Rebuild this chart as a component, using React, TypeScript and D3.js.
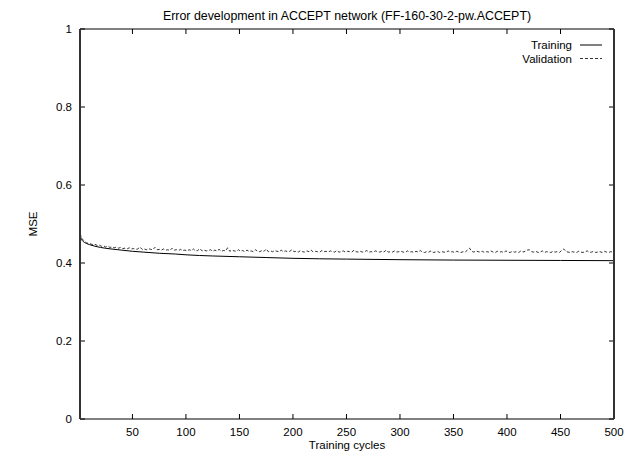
import React from "react";
import * as d3 from "d3";

const title = "Error development in ACCEPT network (FF-160-30-2-pw.ACCEPT)";
const xLabel = "Training cycles";
const yLabel = "MSE";
const xTicks = [50, 100, 150, 200, 250, 300, 350, 400, 450, 500];
const yTicks = [0, 0.2, 0.4, 0.6, 0.8, 1];
const seriesNames = ["Training", "Validation"];

const trainingCycles = [1, 2, 3, 5, 7, 10, 15, 20, 30, 40, 50, 60, 75, 90, 100, 125, 150, 175, 200, 250, 300, 350, 400, 450, 500];
const trainingMSE = [0.472, 0.463, 0.458, 0.453, 0.450, 0.447, 0.443, 0.440, 0.436, 0.433, 0.430, 0.428, 0.425, 0.423, 0.421, 0.418, 0.416, 0.414, 0.412, 0.410, 0.4085, 0.4075, 0.407, 0.4065, 0.406];

// validation MSE, sampled every 2 cycles starting at cycle 1
const validationMSE = [
  0.475, 0.462, 0.456, 0.452, 0.450, 0.449, 0.447, 0.448, 0.445, 0.446,
  0.443, 0.444, 0.441, 0.443, 0.440, 0.441, 0.439, 0.441, 0.438, 0.440,
  0.437, 0.438, 0.436, 0.439, 0.436, 0.437, 0.435, 0.436, 0.441, 0.435,
  0.436, 0.434, 0.437, 0.435, 0.434, 0.440, 0.434, 0.435, 0.433, 0.436,
  0.433, 0.434, 0.432, 0.438, 0.433, 0.434, 0.432, 0.435, 0.432, 0.433,
  0.431, 0.434, 0.432, 0.436, 0.431, 0.432, 0.437, 0.431, 0.433, 0.431,
  0.432, 0.434, 0.430, 0.433, 0.431, 0.435, 0.430, 0.432, 0.431, 0.439,
  0.430, 0.433, 0.431, 0.430, 0.434, 0.430, 0.432, 0.429, 0.433, 0.430,
  0.431, 0.429, 0.434, 0.430, 0.429, 0.432, 0.430, 0.436, 0.429, 0.431,
  0.429, 0.432, 0.430, 0.429, 0.433, 0.429, 0.431, 0.429, 0.430, 0.434,
  0.429, 0.430, 0.428, 0.432, 0.429, 0.428, 0.431, 0.429, 0.433, 0.428,
  0.430, 0.429, 0.428, 0.432, 0.429, 0.430, 0.428, 0.431, 0.429, 0.428,
  0.432, 0.428, 0.429, 0.431, 0.428, 0.430, 0.429, 0.428, 0.433, 0.429,
  0.428, 0.430, 0.428, 0.429, 0.432, 0.428, 0.429, 0.428, 0.431, 0.429,
  0.428, 0.430, 0.428, 0.433, 0.428, 0.429, 0.428, 0.431, 0.428, 0.429,
  0.430, 0.428, 0.427, 0.431, 0.428, 0.429, 0.427, 0.430, 0.428, 0.432,
  0.428, 0.427, 0.429, 0.428, 0.431, 0.427, 0.428, 0.430, 0.427, 0.429,
  0.428, 0.427, 0.431, 0.428, 0.429, 0.427, 0.430, 0.428, 0.427, 0.429,
  0.428, 0.433, 0.438, 0.430, 0.428, 0.431, 0.429, 0.428, 0.430, 0.427,
  0.429, 0.428, 0.431, 0.428, 0.427, 0.430, 0.428, 0.429, 0.427, 0.431,
  0.428, 0.427, 0.430, 0.428, 0.429, 0.427, 0.431, 0.428, 0.430, 0.433,
  0.434, 0.429, 0.428, 0.430, 0.427, 0.428, 0.431, 0.427, 0.429, 0.428,
  0.427, 0.430, 0.428, 0.429, 0.427, 0.432, 0.436, 0.430, 0.428, 0.427,
  0.429, 0.428, 0.427, 0.430, 0.428, 0.427, 0.429, 0.431, 0.427, 0.428,
  0.430, 0.427, 0.428, 0.429, 0.427, 0.430, 0.428, 0.427, 0.429, 0.428,
];

const W = 630;
const H = 452;
const M = { left: 80, right: 16, top: 29, bottom: 33 };
const FONT = "'Liberation Sans', Arial, Helvetica, sans-serif";

export default function App() {
  const x = d3.scaleLinear().domain([1, 500]).range([M.left, W - M.right]);
  const y = d3.scaleLinear().domain([0, 1]).range([H - M.bottom, M.top]);

  const train = trainingCycles.map((c, i) => [c, trainingMSE[i]] as [number, number]);
  const valid = validationMSE.map((v, i) => [1 + 2 * i, v] as [number, number]);

  const trainLine = d3.line<[number, number]>().x(d => x(d[0])).y(d => y(d[1])).curve(d3.curveMonotoneX);
  const validLine = d3.line<[number, number]>().x(d => x(d[0])).y(d => y(d[1]));

  const x0 = M.left, x1 = W - M.right, y0 = H - M.bottom, y1 = M.top;
  const tick = 5;
  const legendRight = 572;

  return (
    <svg width={W} height={H} style={{ position: "absolute", left: 0, top: 0, background: "#fff" }} fontFamily={FONT}>
      <rect x={0} y={0} width={W} height={H} fill="#fff" />
      <text x={(x0 + x1) / 2} y={20} textAnchor="middle" fontSize={12.4}>{title}</text>

      {xTicks.map(t => (
        <g key={"x" + t}>
          <line x1={x(t)} x2={x(t)} y1={y0} y2={y0 - tick} stroke="#000" strokeWidth={1} />
          <line x1={x(t)} x2={x(t)} y1={y1} y2={y1 + tick} stroke="#000" strokeWidth={1} />
          <text x={x(t)} y={435.5} textAnchor="middle" fontSize={11.5}>{t}</text>
        </g>
      ))}
      {yTicks.map(t => (
        <g key={"y" + t}>
          <line x1={x0} x2={x0 + tick} y1={y(t)} y2={y(t)} stroke="#000" strokeWidth={1} />
          <line x1={x1} x2={x1 - tick} y1={y(t)} y2={y(t)} stroke="#000" strokeWidth={1} />
          <text x={72} y={y(t) + 4} textAnchor="end" fontSize={11.5}>{String(t)}</text>
        </g>
      ))}

      <text x={(x0 + x1) / 2} y={448.5} textAnchor="middle" fontSize={11.5}>{xLabel}</text>
      <text transform={`translate(37,${(y0 + y1) / 2}) rotate(-90)`} textAnchor="middle" fontSize={11.5}>{yLabel}</text>

      <path d={trainLine(train) || ""} fill="none" stroke="#000" strokeWidth={1} />
      <path d={validLine(valid) || ""} fill="none" stroke="#000" strokeWidth={0.8} strokeDasharray="3,2" />

      <text x={legendRight} y={49} textAnchor="end" fontSize={11.5}>{seriesNames[0]}</text>
      <line x1={580} x2={602} y1={45} y2={45} stroke="#000" strokeWidth={1} />
      <text x={legendRight} y={62.5} textAnchor="end" fontSize={11.5}>{seriesNames[1]}</text>
      <line x1={580} x2={602} y1={58.5} y2={58.5} stroke="#000" strokeWidth={0.8} strokeDasharray="3,2" />

      <line x1={x0} x2={x1} y1={y1} y2={y1} stroke="#000" strokeWidth={1} />
      <line x1={x0} x2={x1} y1={y0} y2={y0} stroke="#000" strokeWidth={1} />
      <line x1={x0} x2={x0} y1={y1} y2={y0} stroke="#333" strokeWidth={2} />
      <line x1={x1} x2={x1} y1={y1} y2={y0} stroke="#333" strokeWidth={2} />
    </svg>
  );
}
